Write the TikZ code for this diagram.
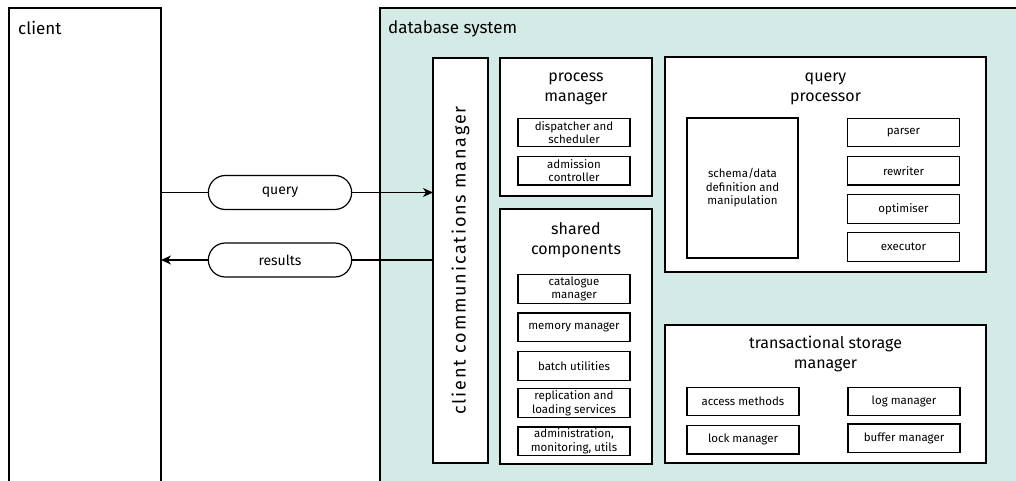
\documentclass[tikz,border=0pt]{standalone}
\usepackage{fontspec}
\setmainfont{Fira Sans}
\usetikzlibrary{shapes.misc, positioning, arrows.meta}

\definecolor{dbteal}{RGB}{211,234,230}

\begin{document}
\begin{tikzpicture}[
    x=1pt, y=-1pt,
    frame/.style={
        rectangle,
        draw=black,
        line width=1.3pt,
        anchor=north west,
        inner sep=0pt,
        outer sep=0pt
    },
    panel/.style={
        frame,
        fill=white,
        line width=1.2pt
    },
    part/.style={
        rectangle,
        draw=black,
        fill=white,
        line width=1.2pt,
        minimum width=112pt,
        minimum height=28.5pt,
        inner sep=0pt,
        align=center,
        font=\fontsize{11.5}{13.5}\selectfont
    },
    heading/.style={
        anchor=north west,
        inner sep=0pt,
        font=\fontsize{17}{20}\selectfont
    },
    title/.style={
        anchor=north,
        inner sep=0pt,
        align=center,
        font=\fontsize{16}{20}\selectfont
    },
    pill/.style={
        rounded rectangle,
        draw=black,
        fill=white,
        line width=1.2pt,
        minimum width=150pt,
        minimum height=34pt,
        font=\fontsize{14}{16}\selectfont
    },
    arrow/.style={
        line width=1.2pt,
        -{Stealth[length=10pt, width=9pt, inset=3pt]}
    },
    link/.style={
        line width=1.2pt
    }
]

    \useasboundingbox (0,0) rectangle (1016,481);
    \clip (0,0) rectangle (1016,481);

    % -- Client side --
    \node[frame, minimum width=152pt, minimum height=500pt] (client) at (9,8) {};
    \node[heading] (client_label) at ([shift={(9,13)}]client.north west) {client};

    % -- Database system --
    \node[frame, fill=dbteal, minimum width=660pt, minimum height=500pt] (db) at (380,8) {};
    \node[heading] (db_label) at ([shift={(8,13)}]db.north west) {database system};

    \node[panel, minimum width=55pt, minimum height=405pt] (comms) at (433,58) {};
    \node[rotate=90, font=\fontsize{18}{20}\selectfont\addfontfeature{LetterSpace=10}] (comms_label) at (comms.center) {client communications manager};

    % -- Process manager --
    \node[panel, minimum width=152pt, minimum height=138pt] (procmgr) at (500,58) {};
    \node[title, below=15pt of procmgr.north] (procmgr_title) {process\\manager};
    \node[part] (dispatcher) at (574,132.5) {dispatcher and\\scheduler};
    \node[part, below=8.5pt of dispatcher] (admission) {admission\\controller};

    % -- Shared components --
    \node[panel, minimum width=152pt, minimum height=255pt] (shared) at (500,209) {};
    \node[title, below=13pt of shared.north] (shared_title) {shared\\components};
    \node[part] (catalogue) at (574,289) {catalogue\\manager};
    \node[part, below=8.5pt of catalogue] (memory) {memory manager};
    \node[part, below=9pt of memory] (batch) {batch utilities};
    \node[part, below=7.5pt of batch] (replication) {replication and\\loading services};
    \node[part, below=8.5pt of replication] (admin) {administration,\\monitoring, utils};

    % -- Query processor --
    \node[panel, minimum width=321pt, minimum height=215pt] (queryproc) at (665,57) {};
    \node[title, below=16pt of queryproc.north] (queryproc_title) {query\\processor};
    \node[part, minimum width=111pt, minimum height=140pt] (schema) at (742.5,188) {schema/data\\definition and\\manipulation};
    \node[part] (parser) at (903.5,132.5) {parser};
    \node[part, below=8.5pt of parser] (rewriter) {rewriter};
    \node[part, below=8.5pt of rewriter] (optimiser) {optimiser};
    \node[part, below=8.5pt of optimiser] (executor) {executor};

    % -- Transactional storage manager --
    \node[panel, minimum width=321pt, minimum height=138pt] (storage) at (665,325) {};
    \node[title, below=11pt of storage.north] (storage_title) {transactional storage\\manager};
    \node[part] (access) at (743,401.5) {access methods};
    \node[part, below=8.5pt of access] (lock) {lock manager};
    \node[part] (log) at (904,401.5) {log manager};
    \node[part, below=7pt of log] (buffer) {buffer manager};

    % -- Request and reply between client and server --
    \node[pill] (query) at (280,192.5) {query};
    \node[pill] (results) at (280,260) {results};

    \draw[link] (query.west -| client.east) -- (query.west);
    \draw[arrow] (query.east) -- (query.east -| comms.west);
    \draw[link] (results.east -| comms.west) -- (results.east);
    \draw[arrow] (results.west) -- (results.west -| client.east);

\end{tikzpicture}
\end{document}
